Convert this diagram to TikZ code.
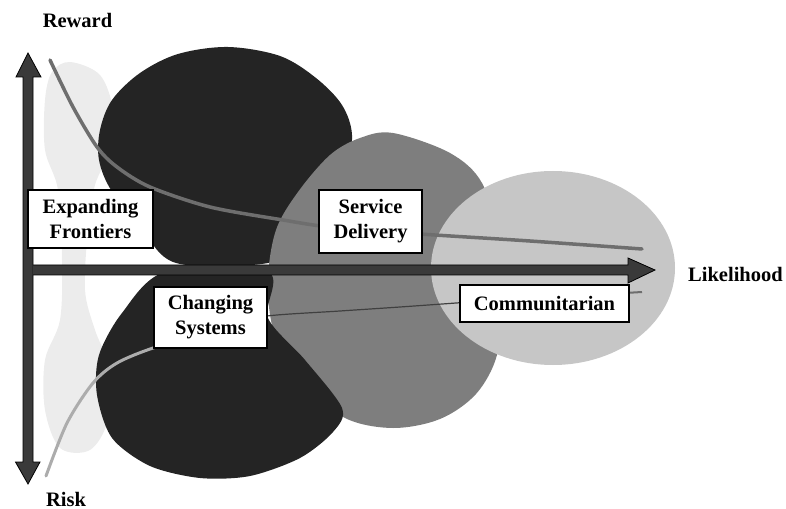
\documentclass[tikz,border=0pt]{standalone}
\usepackage{fontspec}
\setmainfont{Liberation Serif}
\definecolor{faintblob}{HTML}{ECECEC}
\definecolor{darkblob}{HTML}{242424}
\definecolor{midblob}{HTML}{7E7E7E}
\definecolor{lightblob}{HTML}{C6C6C6}
\definecolor{axisfill}{HTML}{3A3A3A}
\definecolor{curvegray}{HTML}{6E6E6E}
\begin{document}
\begin{tikzpicture}[x=1bp,y=-1bp,
  txt/.style={font=\fontsize{20.5bp}{25bp}\selectfont\bfseries},
  lbl/.style={txt, inner sep=0},
  box/.style={txt, draw=black, line width=1.4bp, fill=white, inner sep=0, align=center},
  axis/.style={fill=axisfill, draw=black, line width=0.8bp, line join=miter},
  curve/.style={draw=curvegray, line width=3.5bp, line cap=round}]
\useasboundingbox (0,0) rectangle (786,509);

% faint region along the vertical axis
\fill[faintblob] plot[smooth cycle, tension=0.55] coordinates {
  (70,62) (100,75) (113,110) (110,150) (95,185) (88,230) (85,290) (95,330)
  (110,370) (108,420) (90,450) (60,448) (45,410) (45,360) (60,320) (62,260)
  (58,190) (45,150) (45,100) (52,72)};

% upper lobe of the dark region
\fill[darkblob] plot[smooth cycle, tension=0.55] coordinates {
  (176,263) (140,226) (111,190) (99,160) (100,130) (112,100) (140,73)
  (178,54) (228,47) (280,56) (316,78) (342,105) (352,135) (345,170)
  (320,205) (292,240) (268,263)};

% service delivery region
\fill[midblob] plot[smooth cycle, tension=0.55] coordinates {
  (393,133) (450,153) (482,183) (498,240) (501,300) (497,355) (476,394)
  (440,419) (393,428) (345,418) (302,382) (274,332) (268,280) (276,230)
  (298,192) (330,155) (360,138)};

% lower lobe of the dark region
\fill[darkblob] plot[smooth cycle, tension=0.5] coordinates {
  (165,272) (122,313) (99,355) (97,395) (112,438) (150,466) (200,478)
  (250,476) (300,458) (333,432) (342,408) (305,360) (268,318) (268,272)};

% communitarian region
\fill[lightblob] (553,268) ellipse [x radius=122, y radius=97];

% reward and risk curves
\draw[curve] plot[smooth, tension=0.5] coordinates {
  (50,60) (73,107) (97,147) (117,167) (150,187) (210,207) (283,220)
  (330,227) (420,234) (530,241) (642,249)};
\draw[curve, line width=3bp, draw=gray!65] plot[smooth, tension=0.5] coordinates {
  (46,476) (67,423) (93,383) (117,363) (153,348) (200,335)};
\draw[draw=black!75, line width=1.2bp] plot[smooth, tension=0.5] coordinates {
  (230,325) (267,316) (340,311) (400,307) (470,302)};
\draw[draw=curvegray, line width=2bp] (625,293) -- (642,292);

% axes
\coordinate (vtop) at (28,53);
\coordinate (vbot) at (28,484);
\coordinate (htip) at (655,270);
\fill[axis] (23,77) -- (16,77) -- (vtop) -- (41,77) -- (33,77) -- (33,462)
  -- (40,462) -- (vbot) -- (15.5,462) -- (23,462) -- cycle;
\fill[axisfill] (32.5,265) -- (628,265) -- (628,258) -- (htip) -- (628,283)
  -- (628,275) -- (32.5,275) -- cycle;
\draw[black, line width=0.8bp, line join=miter] (33,265) -- (628,265) -- (628,258)
  -- (htip) -- (628,283) -- (628,275) -- (33,275);

% labelled boxes
\node[box, minimum width=125bp, minimum height=58bp] (ef) at (90.5,219) {Expanding\\Frontiers};
\node[box, minimum width=103bp, minimum height=63bp] (sd) at (370.5,221.5) {Service\\Delivery};
\node[box, minimum width=113bp, minimum height=61bp] (cs) at (210.5,317.5) {Changing\\Systems};
\node[box, minimum width=169bp, minimum height=37bp] (cm) at (544.5,303.5) {Communitarian};

% axis labels
\node[lbl, anchor=base] (reward) at (77.5,28) {Reward};
\node[lbl, anchor=base] (risk) at (66,506) {Risk};
\node[lbl, anchor=base] (likely) at (735.5,282) {Likelihood};
\end{tikzpicture}
\end{document}
